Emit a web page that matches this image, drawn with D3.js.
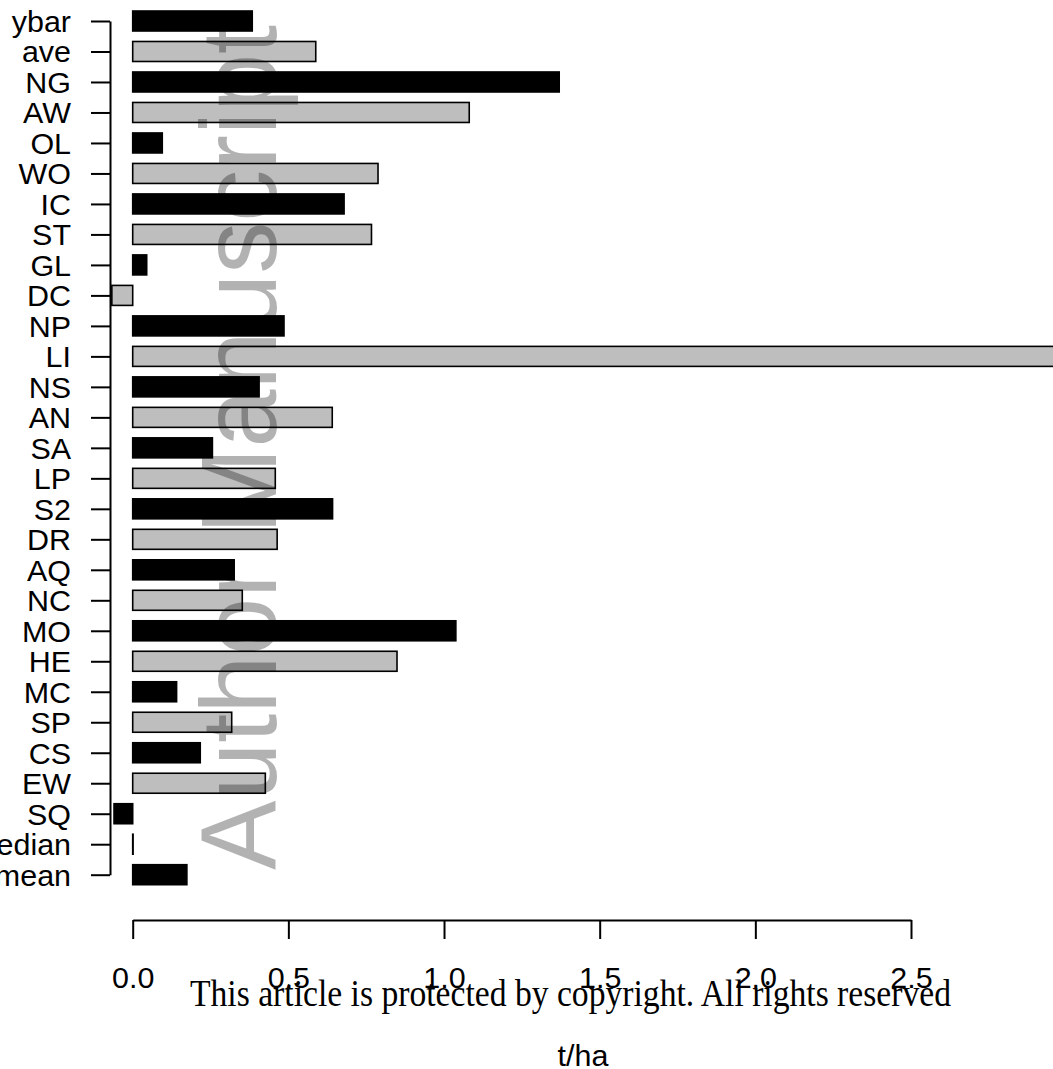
<!DOCTYPE html>
<html>
<head>
<meta charset="utf-8">
<script src="https://cdn.jsdelivr.net/npm/d3@7"></script>
<style>
  html, body { margin: 0; padding: 0; background: #fff; }
  svg { display: block; }
</style>
</head>
<body>
<svg id="chart" width="1053" height="1069"></svg>
<script>
// Categories, top to bottom
const categories = ["ybar","ave","NG","AW","OL","WO","IC","ST","GL","DC","NP","LI","NS","AN",
  "SA","LP","S2","DR","AQ","NC","MO","HE","MC","SP","CS","EW","SQ","median","mean"];

// Values in t/ha
const values = [0.384, 0.588, 1.370, 1.081, 0.095, 0.788, 0.679, 0.767, 0.045, -0.067, 0.486, 3.10,
  0.406, 0.641, 0.256, 0.458, 0.642, 0.464, 0.326, 0.352, 1.038, 0.849, 0.141, 0.318, 0.217,
  0.426, -0.060, 0.000, 0.174];

// Alternating fills, starting with black at the top
const fills = ["black", "#bebebe"];

const xTicks = [0, 0.5, 1.0, 1.5, 2.0, 2.5];
const xTitle = "t/ha";
const notice = "This article is protected by copyright. All rights reserved";
const stamp = "Author Manuscript";

const svg = d3.select("#chart");
const FONT = "'Liberation Sans', Arial, sans-serif";
const SX = 1.05;   // horizontal stretch of axis text
const FS = 29;

const x = d3.scaleLinear().domain([0, 2.5]).range([132.7, 911]);
const y = d3.scalePoint().domain(categories).range([21, 874.7]);
const barH = 20;

// Bars (a zero value still shows its outline as a hairline)
svg.append("g").selectAll("rect")
  .data(categories.map((c, i) => ({ c, v: values[i], i })))
  .join("rect")
  .attr("x", d => Math.min(x(0), x(d.v)))
  .attr("width", d => Math.max(0.4, Math.abs(x(d.v) - x(0))))
  .attr("y", d => y(d.c) - barH / 2)
  .attr("height", barH)
  .attr("fill", d => fills[d.i % 2])
  .attr("stroke", "black")
  .attr("stroke-width", 1.6);

// Left axis
const yAxis = svg.append("g")
  .attr("transform", "translate(110,0)")
  .call(d3.axisLeft(y).tickSize(19).tickSizeOuter(0).tickPadding(20));
yAxis.select(".domain").attr("stroke-width", 2);
yAxis.selectAll(".tick line").attr("stroke-width", 2);
yAxis.selectAll(".tick text")
  .attr("font-family", FONT).attr("font-size", FS).attr("fill", "black")
  .attr("dy", null).attr("y", 0.355 * FS)
  .attr("x", -39 / SX)
  .attr("transform", `scale(${SX},1)`);

// Bottom axis
const xAxis = svg.append("g")
  .attr("transform", "translate(0,920)")
  .call(d3.axisBottom(x).tickValues(xTicks).tickFormat(d3.format(".1f"))
    .tickSize(19).tickSizeOuter(0).tickPadding(0));
xAxis.select(".domain").attr("stroke-width", 2);
xAxis.selectAll(".tick line").attr("stroke-width", 2);
xAxis.selectAll(".tick text")
  .attr("font-family", FONT).attr("font-size", FS).attr("fill", "black")
  .attr("dy", null).attr("y", 68)
  .attr("transform", `scale(${SX},1)`);

// Axis title
svg.append("text")
  .attr("transform", `translate(583,1066) scale(${SX},1)`)
  .attr("text-anchor", "middle")
  .attr("font-family", FONT).attr("font-size", FS)
  .text(xTitle);

// Copyright notice
svg.append("text")
  .attr("x", 190).attr("y", 1006)
  .attr("font-family", "'Liberation Serif', 'DejaVu Serif', serif")
  .attr("font-size", 37)
  .attr("textLength", 761).attr("lengthAdjust", "spacingAndGlyphs")
  .text(notice);

// Vertical stamp over the plot
svg.append("text")
  .attr("transform", "translate(276,870) rotate(-90)")
  .attr("font-family", FONT).attr("font-size", 108)
  .attr("fill", "black").attr("fill-opacity", 0.3)
  .attr("textLength", 845).attr("lengthAdjust", "spacingAndGlyphs")
  .text(stamp);
</script>
</body>
</html>
